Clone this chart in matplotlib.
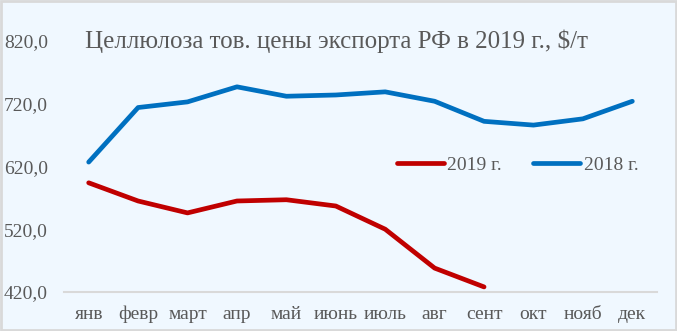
import matplotlib.pyplot as plt
from matplotlib.patches import Rectangle

months = ["янв", "февр", "март", "апр", "май", "июнь", "июль",
          "авг", "сент", "окт", "нояб", "дек"]
prices_2019 = [594, 565, 546, 565, 567, 557, 520, 458, 428]
prices_2018 = [627, 714, 723, 747, 732, 734, 739, 724, 692, 686, 696, 724]
yticks = [420, 520, 620, 720, 820]

text_color = "#595959"
bg = "#F0F8FF"
plt.rcParams["font.family"] = ["Liberation Serif", "DejaVu Serif"]

fig = plt.figure(figsize=(6.77, 3.31), dpi=100, facecolor=bg)
fig.patches.append(Rectangle((0.002, 0.003), 0.996, 0.994, transform=fig.transFigure,
                             fill=False, edgecolor="#D9D9D9", linewidth=2))
ax = fig.add_axes([0.0945, 0.118, 0.876, 0.758])
ax.set_facecolor(bg)

x = range(len(months))
ax.plot(range(len(prices_2019)), prices_2019, color="#C00000", lw=3.4,
        solid_capstyle="round", label="2019 г.")
ax.plot(x, prices_2018, color="#0070C0", lw=3.4,
        solid_capstyle="round", label="2018 г.")

ax.set_xlim(-0.5, 11.5)
ax.set_ylim(420, 820)
ax.set_yticks(yticks)
ax.set_yticklabels([f"{v},0" for v in yticks])
ax.set_xticks(list(x))
ax.set_xticklabels(months)
ax.tick_params(length=0, labelsize=14, colors=text_color)
ax.tick_params(axis="y", pad=11.5)
ax.tick_params(axis="x", pad=10)
for side in ["top", "right", "left"]:
    ax.spines[side].set_visible(False)
ax.spines["bottom"].set_color("#D9D9D9")
ax.spines["bottom"].set_linewidth(1.5)

fig.text(0.125, 0.875, "Целлюлоза тов. цены экспорта РФ в 2019 г., $/т",
         fontsize=18, color=text_color, va="center")

ax.legend(loc="center", bbox_to_anchor=(0.765, 0.505), ncol=2, frameon=False,
          fontsize=14, labelcolor=text_color, handlelength=2.4,
          handletextpad=0.2, columnspacing=1.6)

fig.savefig("out.png", dpi=100, facecolor=bg)
